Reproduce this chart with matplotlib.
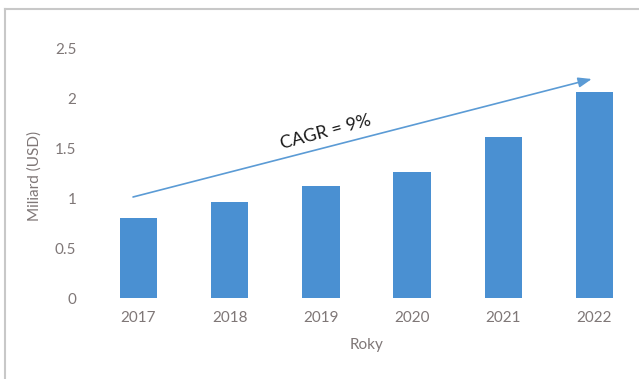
import matplotlib
matplotlib.use("Agg")
import matplotlib.pyplot as plt
from matplotlib.lines import Line2D

years = ["2017", "2018", "2019", "2020", "2021", "2022"]
values = [0.80, 0.965, 1.12, 1.26, 1.61, 2.06]
yticks = [0, 0.5, 1, 1.5, 2, 2.5]
ytick_labels = ["0", "0.5", "1", "1.5", "2", "2.5"]
cagr_text = "CAGR = 9%"
arrow_start = (-0.06, 1.01)
arrow_end = (4.97, 2.19)

W, H = 639, 379
fig = plt.figure(figsize=(W / 100, H / 100), dpi=100)
fig.patch.set_facecolor("white")

# outer frame (top and left edges visible)
fig.add_artist(Line2D([4.5 / W, 1.0], [(H - 9) / H, (H - 9) / H],
                      transform=fig.transFigure, color="#c8c8c8", lw=1.5))
fig.add_artist(Line2D([4.5 / W, 4.5 / W], [0, (H - 9) / H],
                      transform=fig.transFigure, color="#c8c8c8", lw=1.5))

# axes: category 0 centre at x=138.5, spacing 91.2 px; y=0 at 298, 2.5 at 48
left_px = 138.5 - 0.5 * 91.2
right_px = 594.5 + 0.5 * 91.2
ax = fig.add_axes([left_px / W, (H - 298) / H, (right_px - left_px) / W, 250 / H])
x = list(range(len(years)))
ax.bar(x, values, width=0.41, color="#4a90d2", zorder=2)
ax.set_xlim(-0.5, len(years) - 0.5)
ax.set_ylim(0, 2.5)
ax.set_yticks(yticks)
ax.set_yticklabels(ytick_labels)
ax.set_xticks(x)
ax.set_xticklabels(years)
for s in ax.spines.values():
    s.set_visible(False)
ax.tick_params(length=0, colors="#7f7777", labelsize=11)
ax.tick_params(axis="y", pad=12)
ax.tick_params(axis="x", pad=9)
for lab in ax.get_xticklabels() + ax.get_yticklabels():
    lab.set_family("Lato")
ax.set_ylabel("Miliard (USD)", color="#7f7777", fontsize=11, family="Lato")
ax.yaxis.set_label_coords(-0.093, 0.49)
ax.set_xlabel("Roky", color="#7f7777", fontsize=11, family="Lato", labelpad=10)

ax.annotate("", xy=arrow_end, xytext=arrow_start,
            arrowprops=dict(arrowstyle="-|>,head_length=0.8,head_width=0.3",
                            color="#5b9bd5", lw=1.2, shrinkA=0, shrinkB=0))
ax.text(2.05, 1.66, cagr_text, rotation=15, ha="center", va="center",
        fontsize=13, family="Lato", color="#1a1a1a", rotation_mode="anchor")

fig.savefig("out.png", dpi=100)
